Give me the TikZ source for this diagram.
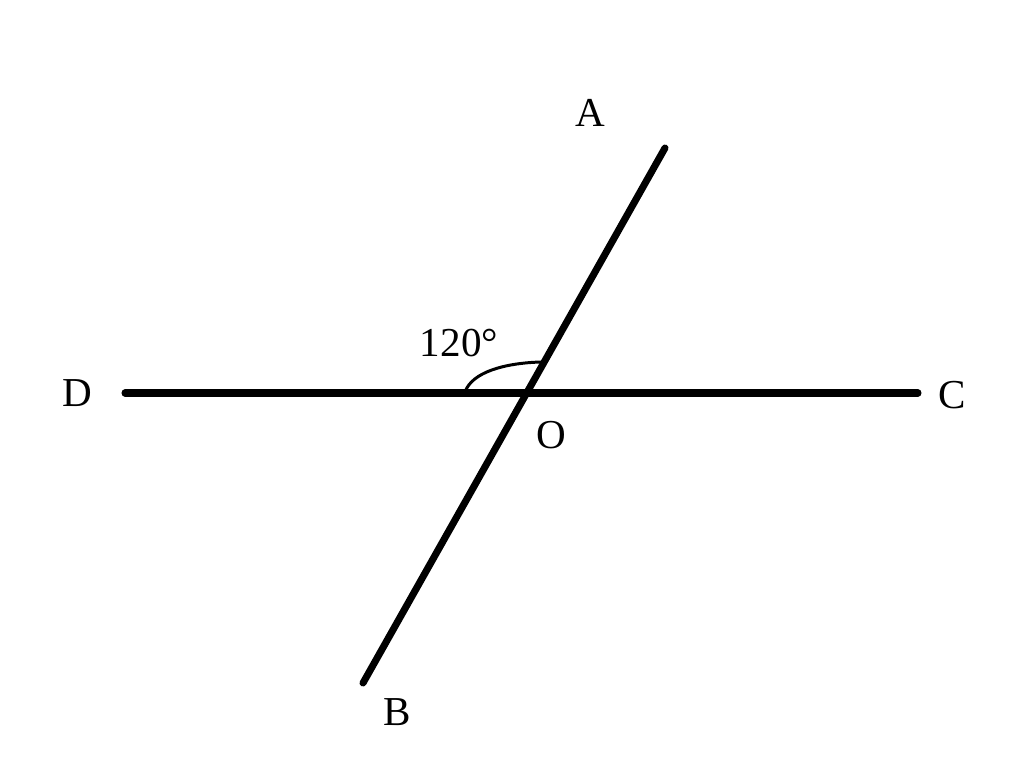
\documentclass[tikz,border=0pt]{standalone}
\usepackage{fontspec}
\setmainfont{Liberation Serif}

\begin{document}
\begin{tikzpicture}
		\tikzset{geoline/.style={line width=2pt,line cap=round},
			ptlabel/.style={font=\fontsize{11.7}{14}\selectfont,inner sep=0pt}}
		\useasboundingbox (0,0) rectangle (10.24,7.73);
		% points
		\coordinate (O) at (5.27,3.80);
		\coordinate (A) at (6.65,6.25);
		\coordinate (B) at (3.63,0.90);
		\coordinate (C) at (9.18,3.80);
		\coordinate (D) at (1.25,3.80);
		% lines
		\draw[geoline] (D) -- (C);
		\draw[geoline] (B) -- (A);
		% angle
		\coordinate (arcD) at (4.65,3.81);
		\coordinate (arcA) at (5.41,4.11);
		\draw[line width=0.85pt] (arcD) .. controls (4.72,4.01) and (5.05,4.10) .. (arcA);
		
		% labels
		\node[ptlabel] (labA) at (5.90,6.60) {A};
		\node[ptlabel] (labB) at (3.97,0.61) {B};
		\node[ptlabel] (labC) at (9.52,3.78) {C};
		\node[ptlabel] (labD) at (0.77,3.80) {D};
		\node[ptlabel] (labO) at (5.51,3.38) {O};
		\node[ptlabel] (labAng) at (4.59,4.30) {120°};
		
\end{tikzpicture}
\end{document}
